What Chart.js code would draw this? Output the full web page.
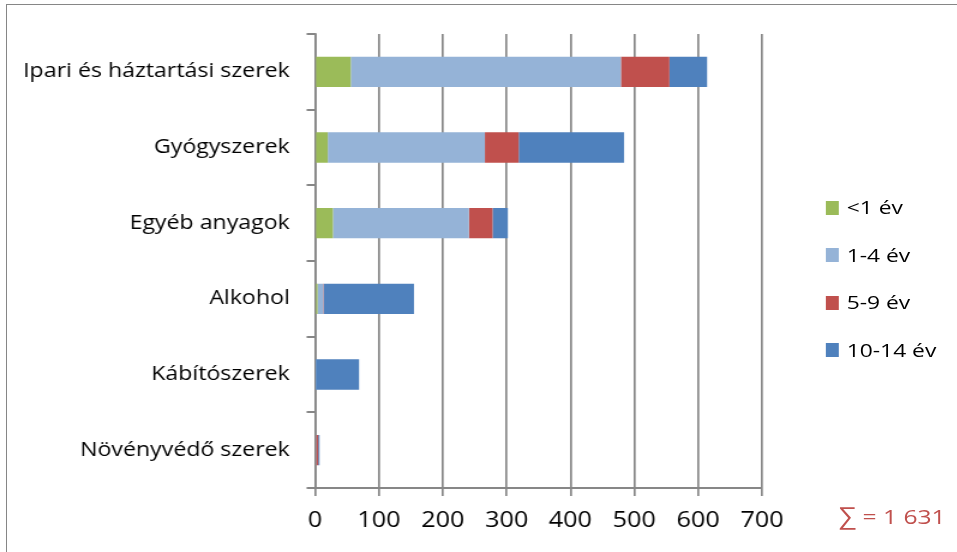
<!DOCTYPE html>
<html lang="hu">
<head>
    <meta charset="UTF-8">
    <title>Mérgezések életkor szerint</title>
    <script src="https://cdn.jsdelivr.net/npm/chart.js"></script>
    <style>
        html, body { margin: 0; padding: 0; background: #fff; }
        body { width: 957px; height: 552px; position: relative; overflow: hidden; font-family: "Open Sans", Lato, sans-serif; }
        #frame { position: absolute; left: 6px; top: 4px; width: 980px; height: 580px; border: 1px solid #868686; box-sizing: border-box; }
        /* az eredeti ábra vízszintesen nyújtott, ezért az egészet 1.2-szeresre húzzuk */
        #stage { position: absolute; left: 0; top: 0; width: 798px; height: 552px; transform: scaleX(1.2); transform-origin: 0 0; }
        #legend { position: absolute; left: 687.5px; top: 195px; }
        .item { height: 47.5px; display: flex; align-items: flex-start; font-size: 19px; color: #000; }
        .box { width: 11.7px; height: 14px; margin: 5.5px 6.4px 0 0; }
        .item span { line-height: 25px; }
        #sum { position: absolute; left: 699px; top: 502px; font-size: 20.5px; line-height: 26px; color: #c0504d; white-space: nowrap; }
        #sum .sig { font-size: 23px; }
    </style>
</head>
<body>
    <div id="frame"></div>
    <div id="stage">
        <canvas id="chart" width="798" height="552"></canvas>
        <div id="legend"></div>
        <div id="sum"></div>
    </div>

<script>
// adatok (leolvasva az ábráról)
const categories = ['Ipari és háztartási szerek', 'Gyógyszerek', 'Egyéb anyagok', 'Alkohol', 'Kábítószerek', 'Növényvédő szerek'];
const seriesNames = ['<1 év', '1-4 év', '5-9 év', '10-14 év'];
const seriesColors = ['#9bbb59', '#95b3d7', '#c0504d', '#4f81bd'];
const under1 = [56, 20, 28, 4, 0, 0];
const age1to4 = [423, 246, 213, 9, 1, 2];
const age5to9 = [76, 53, 37, 1, 0, 3];
const age10to14 = [59, 165, 24, 141, 68, 2];
const xTicks = [0, 100, 200, 300, 400, 500, 600, 700];

const seriesData = [under1, age1to4, age5to9, age10to14];
const gridColor = '#878787';
const font = 'Open Sans';

const datasets = seriesNames.map((name, i) => ({
    label: name,
    data: seriesData[i],
    backgroundColor: seriesColors[i],
    borderWidth: 0,
    barPercentage: 0.4,
    categoryPercentage: 1
}));

new Chart(document.getElementById('chart'), {
    type: 'bar',
    data: { labels: categories, datasets: datasets },
    options: {
        indexAxis: 'y',
        responsive: false,
        animation: false,
        layout: { padding: { top: 34, right: 163, left: 0, bottom: 0 } },
        scales: {
            x: {
                stacked: true,
                min: xTicks[0],
                max: xTicks[xTicks.length - 1],
                afterBuildTicks: scale => { scale.ticks = xTicks.map(v => ({ value: v })); },
                afterFit: scale => { scale.height = 64; },
                grid: { color: gridColor, lineWidth: 1.7, tickLength: 8, drawTicks: true },
                border: { display: true, color: gridColor, width: 2 },
                ticks: { color: '#000', font: { family: font, size: 21 }, padding: 12, maxRotation: 0 }
            },
            y: {
                stacked: true,
                afterFit: scale => { scale.width = 262.5; },
                grid: { drawOnChartArea: false, offset: true, color: gridColor, lineWidth: 2, tickLength: 7 },
                border: { display: true, color: gridColor, width: 1.7 },
                ticks: { color: '#000', font: { family: font, size: 19.3 }, padding: 14 }
            }
        },
        plugins: {
            legend: { display: false },
            tooltip: { enabled: false }
        }
    }
});

// jelmagyarázat
const legend = document.getElementById('legend');
seriesNames.forEach((name, i) => {
    const row = document.createElement('div');
    row.className = 'item';
    row.innerHTML = '<div class="box" style="background:' + seriesColors[i] + '"></div><span></span>';
    row.querySelector('span').textContent = name;
    legend.appendChild(row);
});

// összeg
let total = 0;
seriesData.forEach(arr => arr.forEach(v => { total += v; }));
const totalText = String(total).replace(/\B(?=(\d{3})+(?!\d))/g, ' ');
const sum = document.getElementById('sum');
sum.innerHTML = '<span class="sig">∑</span><span></span>';
sum.lastChild.textContent = ' = ' + totalText;
</script>
</body>
</html>
